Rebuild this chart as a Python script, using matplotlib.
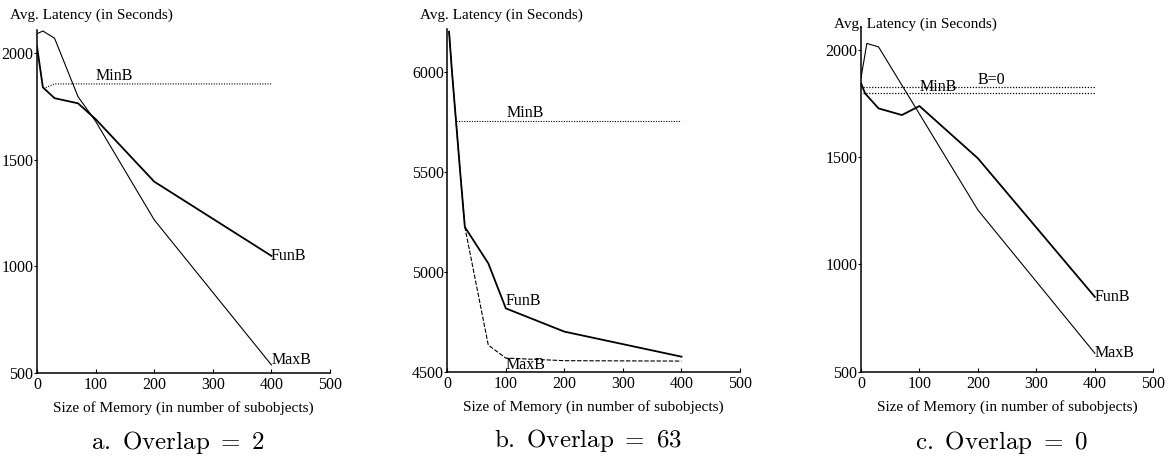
"""Three-panel latency vs. memory size plot (Overlap = 2, 63, 0)."""

import matplotlib
matplotlib.use("Agg")
import matplotlib.pyplot as plt

plt.rcParams["font.family"] = ["Liberation Serif", "DejaVu Serif"]
plt.rcParams["mathtext.fontset"] = "cm"

W, H = 1172, 458

# ---- panel a: Overlap = 2 ----
a_maxb_x = [0, 10, 30, 70, 100, 200, 400]
a_maxb_y = [2090, 2103, 2069, 1795, 1680, 1218, 538]
a_funb_x = [0, 10, 30, 70, 100, 200, 400]
a_funb_y = [2030, 1839, 1788, 1764, 1690, 1397, 1049]
a_minb_x = [15, 30, 400]
a_minb_y = [1838, 1855, 1855]

# ---- panel b: Overlap = 63 ----
b_maxb_x = [3, 8, 22, 30, 70, 100, 200, 400]
b_maxb_y = [6200, 6000, 5500, 5225, 4636, 4571, 4558, 4556]
b_funb_x = [3, 8, 22, 30, 70, 100, 200, 400]
b_funb_y = [6200, 6000, 5500, 5225, 5044, 4819, 4703, 4578]
b_minb_x = [15, 400]
b_minb_y = [5755, 5755]

# ---- panel c: Overlap = 0 ----
c_maxb_x = [0, 10, 30, 100, 200, 400]
c_maxb_y = [1870, 2031, 2015, 1702, 1254, 586]
c_funb_x = [0, 7, 30, 70, 100, 200, 400]
c_funb_y = [1846, 1798, 1728, 1697, 1739, 1495, 849]
c_minb_x = [4, 400]
c_minb_y = [1798, 1798]
c_b0_x = [4, 400]
c_b0_y = [1829, 1829]

x_ticks = [0, 100, 200, 300, 400, 500]

fig = plt.figure(figsize=(W / 100, H / 100), dpi=100)


def px_axes(left, right, bottom, top):
    return fig.add_axes([left / W, 1 - bottom / H, (right - left) / W, (bottom - top) / H])


def style_axes(ax, ylim, yticks):
    ax.set_xlim(0, 500)
    ax.set_ylim(*ylim)
    ax.set_xticks(x_ticks)
    ax.set_yticks(yticks)
    for s in ["top", "right"]:
        ax.spines[s].set_visible(False)
    for s in ["left", "bottom"]:
        ax.spines[s].set_linewidth(1.1)
    ax.tick_params(axis="x", direction="in", length=3, pad=3, labelsize=11.5)
    ax.tick_params(axis="y", direction="out", length=2, pad=0.5, labelsize=11.5)


def fig_text(x, y, s, **kw):
    fig.text(x / W, 1 - y / H, s, **kw)


def panel(left, right, bottom, top, ylim, yticks, title_y, cap_y, caption):
    ax = px_axes(left, right, bottom, top)
    style_axes(ax, ylim, yticks)
    fig_text(left - 27, title_y, "Avg. Latency (in Seconds)", fontsize=11,
             ha="left", va="center")
    fig_text((left + right) / 2, bottom + 35, "Size of Memory (in number of subobjects)",
             fontsize=11, ha="center", va="center")
    fig_text((left + right) / 2 - 6, cap_y, caption, fontsize=18,
             ha="center", va="center")
    return ax


dot = (0, (1, 1.3))

# panel a
ax = panel(37, 330, 373, 29.5, (500, 2110), [500, 1000, 1500, 2000], 15, 442,
           r"$\mathrm{a.\ Overlap\ =\ 2}$")
ax.plot(a_maxb_x, a_maxb_y, color="black", lw=0.8)
ax.plot(a_funb_x, a_funb_y, color="black", lw=1.3)
ax.plot(a_minb_x, a_minb_y, color="black", lw=0.8, ls=dot)
ax.text(100, a_minb_y[-1], "MinB", fontsize=11.5, ha="left", va="bottom")
ax.text(398, a_funb_y[-1], "FunB", fontsize=11.5, ha="left", va="center")
ax.text(400, a_maxb_y[-1] + 25, "MaxB", fontsize=11.5, ha="left", va="center")

# panel b
ax = panel(447.3, 740, 372.3, 29.3, (4500, 6212), [4500, 5000, 5500, 6000], 15, 440,
           r"$\mathrm{b.\ Overlap\ =\ 63}$")
ax.plot(b_maxb_x, b_maxb_y, color="black", lw=0.8, ls=(0, (4, 1.5)))
ax.plot(b_funb_x, b_funb_y, color="black", lw=1.3)
ax.plot(b_minb_x, b_minb_y, color="black", lw=0.8, ls=dot)
ax.text(102, b_minb_y[-1], "MinB", fontsize=11.5, ha="left", va="bottom")
ax.text(99, b_funb_y[5] - 5, "FunB", fontsize=11.5, ha="left", va="bottom")
ax.text(99, b_maxb_y[-1] - 20, "MaxB", fontsize=11.5, ha="left", va="center")

# panel c
ax = panel(861, 1153.3, 371.7, 26.5, (500, 2110), [500, 1000, 1500, 2000], 24, 442,
           r"$\mathrm{c.\ Overlap\ =\ 0}$")
ax.plot(c_maxb_x, c_maxb_y, color="black", lw=0.8)
ax.plot(c_funb_x, c_funb_y, color="black", lw=1.3)
ax.plot(c_minb_x, c_minb_y, color="black", lw=0.9, ls=dot)
ax.plot(c_b0_x, c_b0_y, color="black", lw=0.9, ls=dot)
ax.text(101, c_minb_y[-1] - 8, "MinB", fontsize=11.5, ha="left", va="bottom")
ax.text(200, c_b0_y[-1] - 5, "B=0", fontsize=11.5, ha="left", va="bottom")
ax.text(400, c_funb_y[-1], "FunB", fontsize=11.5, ha="left", va="center")
ax.text(400, c_maxb_y[-1], "MaxB", fontsize=11.5, ha="left", va="center")

fig.savefig("out.png", dpi=100)
